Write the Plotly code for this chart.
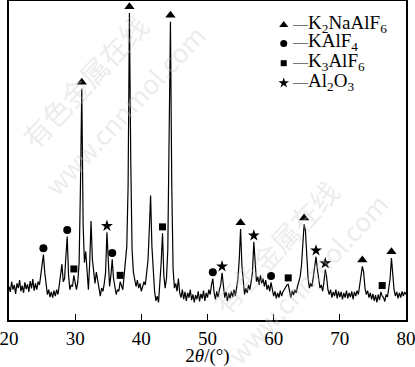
import plotly.graph_objects as go

# XRD pattern, sampled every 0.2 deg from 20.0 to 80.0 (one row per degree)
intensity = [
    105, 88, 120, 95, 110,      # 20
    82, 115, 100, 125, 90,      # 21
    108, 85, 118, 97, 112,      # 22
    88, 122, 99, 128, 92,       # 23
    115, 95, 120, 110, 140,     # 24
    175, 205, 150, 105, 80,     # 25
    95, 72, 88, 70, 92,         # 26
    75, 95, 80, 110, 150,       # 27
    175, 120, 130, 200, 262,    # 28
    140, 95, 110, 105, 140,     # 29
    110, 95, 120, 180, 420,     # 30
    725, 300, 180, 215, 150,    # 31
    95, 180, 310, 190, 140,     # 32
    115, 150, 120, 95, 75,      # 33
    100, 90, 115, 150, 275,     # 34
    160, 105, 140, 190, 130,    # 35
    100, 80, 95, 90, 120,       # 36
    110, 95, 140, 190, 230,     # 37
    420, 962, 500, 220, 150,    # 38
    120, 105, 125, 100, 115,    # 39
    90, 105, 120, 110, 140,     # 40
    185, 280, 390, 230, 140,    # 41
    90, 60, 75, 55, 110,        # 42
    180, 272, 140, 100, 130,    # 43
    220, 500, 935, 420, 160,    # 44
    100, 115, 90, 130, 85,      # 45
    70, 95, 65, 88, 60,         # 46
    85, 70, 95, 62, 80,         # 47
    55, 78, 65, 90, 58,         # 48
    82, 67, 92, 60, 85,         # 49
    70, 95, 80, 110, 130,       # 50
    85, 65, 90, 72, 95,         # 51
    110, 148, 95, 70, 88,       # 52
    60, 85, 68, 90, 72,         # 53
    95, 75, 100, 130, 190,      # 54
    285, 170, 110, 80, 100,     # 55
    85, 110, 95, 120, 150,      # 56
    245, 170, 120, 135, 110,    # 57
    140, 115, 130, 105, 125,    # 58
    95, 110, 90, 118, 100,      # 59
    75, 90, 68, 85, 70,         # 60
    92, 75, 88, 95, 100,        # 61
    110, 112, 85, 70, 92,       # 62
    78, 95, 85, 105, 120,       # 63
    135, 170, 240, 300, 280,    # 64
    190, 130, 100, 115, 105,    # 65
    140, 170, 198, 160, 120,    # 66
    100, 110, 90, 120, 158,     # 67
    135, 95, 80, 95, 70,        # 68
    88, 75, 95, 68, 90,         # 69
    72, 88, 65, 85, 70,         # 70
    92, 68, 85, 72, 90,         # 71
    65, 88, 75, 92, 80,         # 72
    105, 140, 168, 150, 100,    # 73
    80, 92, 70, 85, 65,         # 74
    82, 60, 78, 55, 80,         # 75
    62, 88, 75, 70, 58,         # 76
    80, 72, 95, 130, 194,       # 77
    140, 95, 75, 88, 68,        # 78
    85, 70, 90, 75, 88,         # 79
    80,                         # 80
]
two_theta = [round(20 + 0.2 * i, 1) for i in range(len(intensity))]

# Phase identification (peak positions, 2theta)
k2naalf6_peaks = [31.0, 38.2, 44.4, 55.0, 64.6, 73.4, 77.8]
kalf4_peaks = [25.2, 28.8, 35.6, 50.8, 59.6]
k3alf6_peaks = [29.8, 36.8, 43.2, 62.2, 76.4]
al2o3_peaks = [34.8, 52.2, 57.0, 66.4, 67.8]

phase_names = ["K<sub>2</sub>NaAlF<sub>6</sub>", "KAlF<sub>4</sub>",
               "K<sub>3</sub>AlF<sub>6</sub>", "Al<sub>2</sub>O<sub>3</sub>"]
x_ticks = [20, 30, 40, 50, 60, 70, 80]


def peak_top(x0):
    vals = [v for t, v in zip(two_theta, intensity) if abs(t - x0) <= 0.25]
    return max(vals)


FONT = "Liberation Serif, Times New Roman, serif"
fig = go.Figure()

# watermark (faint, behind)
wm = "rgba(200,200,200,0.35)"
for txt, x, y, sz in [("有色金属在线", 0.19, 0.75, 28), ("www.cnnmol.com", 0.29, 0.66, 26),
                      ("有色金属在线", 0.67, 0.23, 28), ("www.cnnmol.com", 0.75, 0.13, 26)]:
    fig.add_annotation(text=txt, xref="paper", yref="paper", x=x, y=y,
                       xanchor="center", yanchor="middle",
                       showarrow=False, textangle=-47,
                       font=dict(family="Noto Sans CJK SC, DejaVu Sans", size=sz, color=wm))

fig.add_trace(go.Scatter(x=two_theta, y=intensity, mode="lines",
                         line=dict(color="black", width=1.2), showlegend=False,
                         hoverinfo="skip"))

marker_styles = [("triangle-up", 9), ("circle", 8), ("square", 7), ("star", 9)]
for peaks, (sym, size) in zip([k2naalf6_peaks, kalf4_peaks, k3alf6_peaks, al2o3_peaks],
                              marker_styles):
    fig.add_trace(go.Scatter(x=peaks, y=[peak_top(p) + 20 for p in peaks],
                             mode="markers",
                             marker=dict(symbol=sym, size=size, color="black",
                                         line=dict(width=0)),
                             showlegend=False, hoverinfo="skip"))

# legend: markers on an overlay axis spanning the plot area (0..1), text as annotations
rows_y = [0.925, 0.867, 0.805, 0.743]
leg_x = 0.692
for (sym, size), yy in zip(marker_styles, rows_y):
    fig.add_trace(go.Scatter(x=[leg_x], y=[yy], xaxis="x2", yaxis="y2", mode="markers",
                             marker=dict(symbol=sym, size=size - 1, color="black",
                                         line=dict(width=0)),
                             showlegend=False, hoverinfo="skip"))
for name, yy in zip(phase_names, rows_y):
    fig.add_annotation(
        text=f"<span style='font-size:15px'>—</span>{name}",
        xref="paper", yref="paper", x=0.708, y=yy + 0.004, xanchor="left",
        yanchor="middle", showarrow=False,
        font=dict(family=FONT, size=19, color="black"))

fig.update_layout(
    width=415, height=367,
    margin=dict(l=9, r=9, t=1, b=47),
    paper_bgcolor="white", plot_bgcolor="white",
    font=dict(family=FONT, size=18, color="black"),
    showlegend=False,
    xaxis=dict(range=[20, 80], tickvals=x_ticks, ticks="inside", ticklen=6,
               tickwidth=1.2, tickcolor="black", showline=True, linecolor="black",
               linewidth=1.5, mirror=True, showgrid=False, zeroline=False,
               automargin=False, ticklabeloverflow="allow",
               tickfont=dict(family=FONT, size=19, color="black"),
               title=dict(text="2<i>θ</i>/(°)", font=dict(family=FONT, size=19),
                          standoff=2)),
    yaxis=dict(range=[0, 1000], showticklabels=False, ticks="", showline=True,
               linecolor="black", linewidth=1.5, mirror=True, showgrid=False,
               zeroline=False, automargin=False),
    xaxis2=dict(overlaying="x", range=[0, 1], visible=False),
    yaxis2=dict(overlaying="y", range=[0, 1], visible=False),
)

fig.write_html("out.html", config={"displayModeBar": False},
               post_script="document.body.style.margin='0';"
                           "document.body.style.overflow='hidden';")
